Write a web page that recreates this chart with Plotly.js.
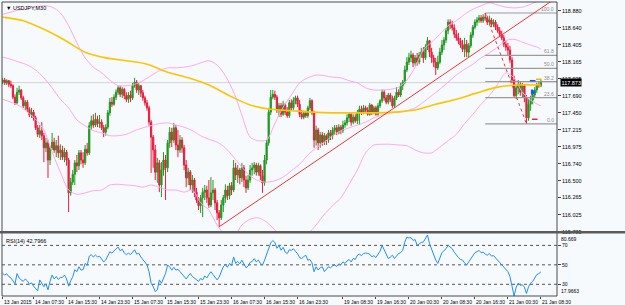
<!DOCTYPE html>
<html><head><meta charset="utf-8">
<script src="https://cdn.plot.ly/plotly-3.0.1.min.js"></script>
<style>html,body{margin:0;padding:0;background:#f7fafd;}#chart{width:625px;height:305px;}</style>
</head><body><div id="chart"></div>
<script>
// ---- USDJPY M30 candles (bar index 0..261) ----
const open = [
117.88,117.91,117.87,117.90,117.85,117.83,117.67,117.59,117.74,117.77,
117.66,117.55,117.60,117.50,117.42,117.46,117.38,117.24,117.15,117.20,
117.13,116.96,117.03,116.79,116.96,117.04,116.93,116.99,116.89,116.93,
116.83,116.90,116.79,116.33,116.48,116.59,116.75,116.71,116.89,116.79,
116.75,116.94,116.89,117.27,117.34,117.28,117.36,117.30,117.32,117.24,
117.18,117.25,117.45,117.60,117.57,117.67,117.74,117.80,117.71,117.78,
117.69,117.64,117.70,117.66,117.83,117.88,117.77,117.83,117.73,117.66,
117.59,117.52,117.32,117.11,116.93,116.62,116.75,116.44,116.65,116.79,
116.68,117.03,117.18,117.07,117.24,117.00,116.93,117.07,116.96,116.72,
116.54,116.62,116.44,116.51,116.34,116.23,116.15,116.26,116.34,116.37,
116.26,116.16,116.33,116.37,116.19,116.05,115.98,116.16,116.26,116.37,
116.29,116.43,116.37,116.68,116.58,116.65,116.54,116.68,116.51,116.40,
116.51,116.65,116.68,116.72,116.62,116.71,116.57,116.47,116.79,117.03,
117.46,117.67,117.71,117.67,117.49,117.55,117.43,117.56,117.46,117.41,
117.59,117.52,117.62,117.66,117.57,117.43,117.39,117.45,117.41,117.52,
117.62,117.45,117.07,117.21,117.03,117.14,117.04,117.13,117.07,117.17,
117.13,117.21,117.24,117.18,117.25,117.20,117.28,117.31,117.38,117.43,
117.32,117.39,117.34,117.45,117.50,117.46,117.52,117.49,117.43,117.56,
117.46,117.52,117.43,117.55,117.62,117.74,117.66,117.60,117.70,117.64,
117.55,117.66,117.74,117.70,117.83,117.88,118.05,118.16,118.22,118.26,
118.15,118.22,118.16,118.26,118.30,118.22,118.37,118.46,118.30,118.22,
118.16,118.08,118.16,118.30,118.40,118.47,118.60,118.72,118.68,118.64,
118.55,118.50,118.46,118.40,118.34,118.41,118.30,118.39,118.54,118.65,
118.72,118.75,118.78,118.74,118.79,118.78,118.72,118.75,118.69,118.72,
118.65,118.60,118.55,118.50,118.41,118.37,118.33,118.19,117.91,117.69,
117.80,117.85,117.74,117.83,117.66,117.38,117.57,117.63,117.70,117.77,
117.84,117.83];
const high = [
117.94,117.94,117.92,117.91,117.90,117.85,117.71,117.80,117.83,117.78,
117.69,117.63,117.63,117.53,117.52,117.49,117.41,117.28,117.28,117.32,
117.17,117.10,117.07,116.99,117.17,117.10,117.07,117.13,117.01,116.99,
116.96,116.93,116.82,116.54,116.65,116.79,116.86,116.93,116.93,116.90,
117.00,117.03,117.32,117.41,117.43,117.45,117.41,117.42,117.36,117.28,
117.29,117.49,117.66,117.67,117.71,117.78,117.83,117.83,117.81,117.80,
117.74,117.74,117.76,117.87,117.94,117.91,117.87,117.84,117.77,117.69,
117.63,117.55,117.35,117.14,117.00,116.82,116.79,116.76,116.90,116.86,
117.07,117.25,117.24,117.31,117.28,117.21,117.14,117.11,117.00,116.79,
116.68,116.65,116.58,116.54,116.40,116.27,116.30,116.40,116.44,116.43,
116.51,116.55,116.51,116.40,116.23,116.09,116.23,116.30,116.45,116.43,
116.47,116.48,116.79,116.75,116.72,116.68,116.75,116.72,116.57,116.58,
116.72,116.75,116.76,116.75,116.75,116.73,116.65,116.86,117.07,117.52,
117.77,117.77,117.76,117.70,117.59,117.59,117.62,117.59,117.53,117.63,
117.64,117.67,117.69,117.69,117.63,117.49,117.48,117.48,117.55,117.66,
117.64,117.48,117.27,117.24,117.18,117.18,117.17,117.15,117.21,117.21,
117.25,117.28,117.28,117.29,117.28,117.34,117.35,117.43,117.46,117.46,
117.43,117.43,117.49,117.55,117.55,117.56,117.55,117.53,117.59,117.57,
117.55,117.55,117.59,117.64,117.78,117.77,117.70,117.73,117.73,117.69,
117.69,117.81,117.78,117.87,117.91,118.11,118.23,118.29,118.32,118.29,
118.26,118.29,118.30,118.36,118.37,118.41,118.51,118.47,118.36,118.26,
118.22,118.25,118.36,118.47,118.51,118.64,118.76,118.76,118.74,118.69,
118.61,118.57,118.50,118.47,118.50,118.47,118.43,118.58,118.68,118.76,
118.79,118.82,118.82,118.83,118.848,118.81,118.81,118.78,118.76,118.75,
118.69,118.65,118.60,118.54,118.46,118.43,118.39,118.23,117.97,117.85,
117.91,117.88,117.87,117.85,117.70,117.64,117.69,117.73,117.81,117.87,
117.88,117.91];
const low = [
117.85,117.84,117.84,117.81,117.80,117.64,117.56,117.57,117.70,117.63,
117.52,117.49,117.46,117.39,117.38,117.34,117.21,117.11,117.10,117.07,
116.76,116.90,116.54,116.72,116.93,116.89,116.83,116.82,116.79,116.79,
116.76,116.71,116.06,116.29,116.44,116.44,116.62,116.65,116.73,116.68,
116.72,116.85,116.86,117.21,117.24,117.25,117.25,117.24,117.21,117.11,
117.13,117.22,117.41,117.53,117.55,117.63,117.70,117.67,117.66,117.64,
117.60,117.59,117.60,117.63,117.80,117.73,117.70,117.67,117.62,117.55,
117.48,117.27,116.61,116.68,116.51,116.47,116.34,116.27,116.57,116.23,
116.62,116.96,116.97,117.03,116.93,116.83,116.89,116.89,116.65,116.41,
116.44,116.37,116.33,116.27,116.19,116.09,116.05,115.99,116.23,116.19,
116.12,116.13,116.23,116.09,115.95,115.85,115.95,116.06,116.19,116.23,
116.24,116.30,116.34,116.51,116.47,116.45,116.48,116.41,116.33,116.37,
116.47,116.57,116.59,116.57,116.57,116.51,116.33,116.43,116.73,116.99,
117.42,117.64,117.63,117.45,117.39,117.39,117.41,117.42,117.38,117.38,
117.49,117.49,117.57,117.53,117.39,117.36,117.36,117.38,117.38,117.49,
117.42,116.96,116.99,116.93,116.96,116.99,117.00,117.00,117.03,117.07,
117.08,117.14,117.14,117.15,117.15,117.17,117.24,117.27,117.32,117.27,
117.29,117.31,117.29,117.28,117.42,117.43,117.45,117.41,117.41,117.42,
117.43,117.41,117.41,117.52,117.59,117.62,117.57,117.57,117.60,117.52,
117.52,117.63,117.67,117.67,117.77,117.85,118.02,118.12,118.16,118.09,
118.11,118.11,118.13,118.22,118.15,118.19,118.33,118.23,118.15,118.09,
117.98,118.05,118.13,118.26,118.33,118.43,118.55,118.62,118.60,118.50,
118.46,118.41,118.36,118.30,118.23,118.23,118.23,118.36,118.50,118.62,
118.67,118.71,118.71,118.71,118.74,118.68,118.68,118.65,118.65,118.61,
118.57,118.51,118.47,118.37,118.32,118.25,118.15,117.87,117.66,117.64,
117.71,117.69,117.66,117.60,117.296,117.34,117.48,117.57,117.66,117.73,
117.80,117.81];
const close = [
117.91,117.87,117.90,117.85,117.83,117.67,117.59,117.74,117.77,117.66,
117.55,117.60,117.50,117.42,117.46,117.38,117.24,117.15,117.20,117.13,
116.96,117.03,116.79,116.96,117.04,116.93,116.99,116.89,116.93,116.83,
116.90,116.79,116.33,116.48,116.59,116.75,116.71,116.89,116.79,116.75,
116.94,116.89,117.27,117.34,117.28,117.36,117.30,117.32,117.24,117.18,
117.25,117.45,117.60,117.57,117.67,117.74,117.80,117.71,117.78,117.69,
117.64,117.70,117.66,117.83,117.88,117.77,117.83,117.73,117.66,117.59,
117.52,117.32,117.11,116.93,116.62,116.75,116.44,116.65,116.79,116.68,
117.03,117.18,117.07,117.24,117.00,116.93,117.07,116.96,116.72,116.54,
116.62,116.44,116.51,116.34,116.23,116.15,116.26,116.34,116.37,116.26,
116.16,116.33,116.37,116.19,116.05,115.98,116.16,116.26,116.37,116.29,
116.43,116.37,116.68,116.58,116.65,116.54,116.68,116.51,116.40,116.51,
116.65,116.68,116.72,116.62,116.71,116.57,116.47,116.79,117.03,117.46,
117.67,117.71,117.67,117.49,117.55,117.43,117.56,117.46,117.41,117.59,
117.52,117.62,117.66,117.57,117.43,117.39,117.45,117.41,117.52,117.62,
117.45,117.07,117.21,117.03,117.14,117.04,117.13,117.07,117.17,117.13,
117.21,117.24,117.18,117.25,117.20,117.28,117.31,117.38,117.43,117.32,
117.39,117.34,117.45,117.50,117.46,117.52,117.49,117.43,117.56,117.46,
117.52,117.43,117.55,117.62,117.74,117.66,117.60,117.70,117.64,117.55,
117.66,117.74,117.70,117.83,117.88,118.05,118.16,118.22,118.26,118.15,
118.22,118.16,118.26,118.30,118.22,118.37,118.46,118.30,118.22,118.16,
118.08,118.16,118.30,118.40,118.47,118.60,118.72,118.68,118.64,118.55,
118.50,118.46,118.40,118.34,118.41,118.30,118.39,118.54,118.65,118.72,
118.75,118.78,118.74,118.79,118.78,118.72,118.75,118.69,118.72,118.65,
118.60,118.55,118.50,118.41,118.37,118.33,118.19,117.91,117.69,117.80,
117.85,117.74,117.83,117.66,117.38,117.57,117.63,117.70,117.77,117.84,
117.83,117.873];

// ---- RSI(14) per bar ----
const rsi = [
41.2,39.5,40.8,37.9,36.5,32.8,30.5,41.0,36.5,34.5,
33.0,35.5,33.5,30.0,31.5,28.0,25.5,23.3,34.5,31.0,
27.5,30.5,24.3,33.0,39.5,35.5,38.0,35.0,37.0,37.0,
39.5,35.5,28.0,33.5,37.8,45.0,43.0,48.0,44.6,45.0,
51.4,49.5,58.8,60.5,58.0,60.0,58.1,58.8,55.5,53.0,
55.0,59.5,63.5,62.0,64.5,66.5,68.2,64.5,66.0,62.2,
60.5,62.0,60.5,63.5,65.5,61.0,62.0,58.1,55.5,53.0,
50.0,42.9,31.1,27.5,22.6,24.3,34.5,31.1,37.0,41.2,
49.7,48.0,44.5,47.5,44.6,45.5,43.0,40.5,37.8,35.5,
38.5,41.2,38.0,36.0,34.5,33.0,36.0,34.5,38.5,36.5,
40.0,42.9,40.0,37.0,34.5,37.5,43.0,48.0,50.5,47.5,
51.4,49.5,58.1,51.4,53.5,51.0,54.7,50.5,47.0,48.6,
52.5,53.5,56.4,53.0,55.0,51.5,49.7,54.7,60.0,66.6,
72.5,75.0,73.0,67.0,70.0,65.0,68.0,63.2,61.5,65.5,
64.9,66.5,64.0,61.5,57.5,56.4,58.5,59.8,54.7,55.5,
52.0,43.0,48.0,44.7,47.0,48.0,43.0,45.0,48.0,47.0,
49.0,49.7,48.5,51.0,50.0,53.1,51.4,54.0,55.5,53.0,
56.5,55.5,59.9,61.0,59.5,61.5,62.2,61.6,61.0,58.2,
59.5,57.5,60.9,64.0,70.0,64.9,60.0,56.5,58.0,59.9,
56.5,59.5,61.6,62.5,64.9,73.4,78.5,77.5,78.0,75.1,
76.0,70.0,72.0,73.0,73.4,76.5,80.669,71.7,65.5,59.9,
55.0,51.4,58.2,62.5,64.5,66.6,70.0,68.5,66.6,63.0,
59.9,57.5,55.5,54.8,52.0,49.7,53.0,56.0,59.9,62.5,
63.5,64.9,62.5,63.0,61.0,59.9,61.6,59.0,59.5,57.0,
54.8,52.0,50.0,48.0,45.5,43.0,37.9,29.5,17.9663,27.0,
31.2,29.0,29.5,27.0,20.5,27.5,31.2,32.9,36.0,40.0,
41.0,42.7966];
const rsiMin = 17.9663, rsiMax = 80.669, rsiLast = 42.7966;
const rsiLevels = [70, 50, 30];

// ---- Bollinger bands, sampled every 4 bars ----
const bbX = [0,4,8,12,16,20,24,28,32,36,40,44,48,52,56,60,64,68,72,76,80,84,88,92,96,100,104,108,112,116,120,124,128,132,136,140,144,148,152,156,160,164,168,172,176,180,184,188,192,196,200,204,208,212,216,220,224,228,232,236,240,244,248,252,256,260,261];
const bbUpper = [
118.83,118.86,118.89,118.91,118.93,118.95,118.93,118.85,118.67,118.43,
118.22,118.09,118.01,117.91,117.83,117.83,117.85,117.90,117.97,118.04,
118.08,118.08,118.09,118.11,118.15,118.18,118.12,117.97,117.74,117.42,
117.11,117.06,117.07,117.30,117.53,117.70,117.87,117.94,117.98,117.97,
117.95,117.94,117.90,117.87,117.80,117.77,117.77,117.78,117.81,117.91,
118.09,118.33,118.44,118.55,118.67,118.74,118.83,118.90,118.95,118.99,
118.96,118.93,118.92,118.93,118.97,119.02,119.03];
const bbMid = [
118.23,118.20,118.16,118.12,118.05,117.94,117.80,117.64,117.52,117.35,
117.27,117.20,117.17,117.13,117.13,117.15,117.20,117.24,117.27,117.30,
117.31,117.28,117.25,117.20,117.13,117.08,117.04,116.96,116.83,116.69,
116.57,116.50,116.48,116.50,116.55,116.64,116.73,116.86,116.96,117.04,
117.13,117.20,117.24,117.28,117.32,117.38,117.42,117.45,117.46,117.48,
117.52,117.60,117.69,117.78,117.88,117.98,118.06,118.13,118.22,118.29,
118.37,118.46,118.48,118.44,118.40,118.36,118.34];
const bbLower = [
117.64,117.60,117.55,117.46,117.36,117.21,116.90,116.62,116.37,116.31,
116.33,116.36,116.37,116.44,116.45,116.44,116.43,116.41,116.44,116.41,
116.37,116.37,116.34,116.37,116.19,116.09,115.88,115.74,115.71,115.88,
115.96,115.98,115.92,115.81,115.67,115.60,115.63,115.75,115.88,116.03,
116.15,116.26,116.45,116.65,116.89,117.00,117.01,117.01,117.00,116.99,
116.93,116.89,116.89,116.97,117.06,117.15,117.30,117.43,117.57,117.69,
117.85,118.01,117.94,117.74,117.63,117.56,117.55];

// ---- long moving average (yellow), sampled every 10 bars ----
const maX = [0,10,20,30,40,50,60,70,80,90,100,110,120,130,140,150,160,170,180,190,200,210,220,230,240,250,261];
const maVals = [118.79,118.74,118.62,118.47,118.30,118.22,118.18,118.13,118.02,117.94,117.84,117.69,117.56,117.50,117.48,117.46,117.45,117.45,117.45,117.46,117.49,117.57,117.64,117.73,117.81,117.84,117.84];

// ---- drawn objects ----
const trendX = [105, 270];
const trendY = [115.855, 119.09];
const fibStart = 234, fibEnd = 254;
const fibHigh = 118.848, fibLow = 117.296;
const fibRatios = [1, 0.618, 0.5, 0.382, 0.236, 0];
const fibLabels = ['100.0', '61.8', '50.0', '38.2', '23.6', '0.0'];
const markX = [257, 257, 258, 260];
const markY = [117.90, 117.74, 117.36, 117.92];
const markColor = ['#2255ee', '#2255ee', '#ee2244', '#ffb000'];
const markSymbol = ['line-ew', 'triangle-right', 'line-ew', 'line-ew'];
const lastPrice = 117.873;

// ---- axis labels ----
const tickIdx = [0,15,31,47,63,79,95,111,127,143,165,181,197,213,229,245,261];
const tickLabels = ['13 Jan 2015','14 Jan 07:30','14 Jan 15:30','14 Jan 23:30','15 Jan 07:30','15 Jan 15:30','15 Jan 23:30','16 Jan 07:30','16 Jan 15:30','16 Jan 23:30','19 Jan 08:30','19 Jan 16:30','20 Jan 00:30','20 Jan 08:30','20 Jan 16:30','21 Jan 00:30','21 Jan 08:30'];
const priceTicks = [118.880,118.640,118.405,118.165,117.925,117.690,117.450,117.215,116.975,116.740,116.500,116.265,116.025,115.785];

// ---- build ----
const BG = '#f7fafd';
const FONT = 'Liberation Sans, Arial, sans-serif';
const xMin = -0.3, xMax = 268.8;
const idx = close.map((_, i) => i);
const mainDom = [0.2143, 1], rsiDom = [0, 0.2075];
const pink = '#ffa6f2';

const traces = [];
[bbUpper, bbMid, bbLower].forEach(arr => traces.push({
  type: 'scatter', mode: 'lines', x: bbX, y: arr, xaxis: 'x', yaxis: 'y',
  line: {color: pink, width: 1, shape: 'spline', smoothing: 0.8}, hoverinfo: 'skip'
}));
traces.push({type: 'scatter', mode: 'lines', x: maX, y: maVals, xaxis: 'x', yaxis: 'y',
  line: {color: '#ffc400', width: 1.6, shape: 'spline', smoothing: 0.8}, hoverinfo: 'skip'});
const fx = [], fy = [];
fibRatios.forEach(r => { const v = fibLow + r * (fibHigh - fibLow); fx.push(fibStart, xMax, null); fy.push(v, v, null); });
traces.push({type: 'scatter', mode: 'lines', x: fx, y: fy, xaxis: 'x', yaxis: 'y',
  line: {color: '#9a9a9a', width: 1.2}, hoverinfo: 'skip'});
traces.push({type: 'candlestick', x: idx, open: open, high: high, low: low, close: close,
  xaxis: 'x', yaxis: 'y', whiskerwidth: 0,
  increasing: {line: {color: '#1e9a1e', width: 1}, fillcolor: '#1e9a1e'},
  decreasing: {line: {color: '#ea1c3c', width: 1}, fillcolor: '#ea1c3c'},
  hoverinfo: 'skip'});
traces.push({type: 'scatter', mode: 'lines', x: trendX, y: trendY, xaxis: 'x', yaxis: 'y',
  line: {color: '#f23535', width: 1}, hoverinfo: 'skip'});
traces.push({type: 'scatter', mode: 'lines', x: [fibStart, fibEnd], y: [fibHigh, fibLow], xaxis: 'x', yaxis: 'y',
  line: {color: '#f23535', width: 1, dash: 'dot'}, hoverinfo: 'skip'});
traces.push({type: 'scatter', mode: 'markers', x: markX, y: markY, xaxis: 'x', yaxis: 'y',
  marker: {color: markColor, symbol: markSymbol, size: 4, line: {color: markColor, width: 1.5}}, hoverinfo: 'skip'});
traces.push({type: 'scatter', mode: 'lines', x: idx, y: rsi, xaxis: 'x', yaxis: 'y2',
  line: {color: '#1e8fff', width: 1}, hoverinfo: 'skip'});

const shapes = [
  {type: 'line', xref: 'paper', yref: 'y', x0: 0, x1: 1, y0: lastPrice, y1: lastPrice, line: {color: '#d2d2d2', width: 1}, layer: 'below'},
  {type: 'rect', xref: 'paper', yref: 'paper', x0: 0, x1: 1, y0: 0, y1: 1, line: {color: '#4a4a4a', width: 1}},
  {type: 'line', xref: 'paper', yref: 'paper', x0: -0.01, x1: 1.13, y0: 0.2165, y1: 0.2165, line: {color: '#5a5a5a', width: 2.5}}
];
rsiLevels.forEach(l => shapes.push({type: 'line', xref: 'paper', yref: 'y2', x0: 0, x1: 1, y0: l, y1: l,
  line: {color: '#555', width: 1, dash: 'dot'}, layer: 'below'}));

const annotations = [
  {xref: 'paper', yref: 'paper', x: 0, y: 1, xanchor: 'left', yanchor: 'top', xshift: 2, yshift: -1,
   text: '▼ USDJPY,M30', showarrow: false, font: {family: FONT, size: 5.5, color: '#000'}},
  {xref: 'paper', yref: 'paper', x: 0, y: rsiDom[1], xanchor: 'left', yanchor: 'top', xshift: 2, yshift: -1,
   text: 'RSI(14) ' + rsiLast.toFixed(4), showarrow: false, font: {family: FONT, size: 5.5, color: '#000'}},
  {xref: 'paper', yref: 'y', x: 1, y: lastPrice, xanchor: 'left', yanchor: 'middle', xshift: 3,
   text: lastPrice.toFixed(3), showarrow: false, bgcolor: '#000', borderpad: 0.5,
   font: {family: FONT, size: 5.5, color: '#fff'}},
  {xref: 'paper', yref: 'y2', x: 1, y: rsiMax, xanchor: 'left', yanchor: 'top', xshift: 2, yshift: 1,
   text: rsiMax.toFixed(3), showarrow: false, font: {family: FONT, size: 5, color: '#000'}},
  {xref: 'paper', yref: 'y2', x: 1, y: rsiMin, xanchor: 'left', yanchor: 'bottom', xshift: 2,
   text: rsiMin.toFixed(4), showarrow: false, font: {family: FONT, size: 5, color: '#000'}}
];
fibRatios.forEach((r, k) => annotations.push({xref: 'paper', yref: 'y', x: 0.998, y: fibLow + r * (fibHigh - fibLow),
  xanchor: 'right', yanchor: 'bottom', yshift: -1, text: fibLabels[k], showarrow: false,
  font: {family: FONT, size: 5, color: '#8a8a8a'}}));
// time labels, left-aligned at their tick as in the terminal
tickIdx.forEach((t, k) => annotations.push({xref: 'x', yref: 'paper', x: t, y: 0, xanchor: 'left', yanchor: 'top',
  xshift: -1, yshift: -1, text: tickLabels[k], showarrow: false, font: {family: FONT, size: 5, color: '#000'}}));

const layout = {
  width: 625, height: 305, margin: {l: 2, r: 68, t: 2, b: 9},
  paper_bgcolor: BG, plot_bgcolor: BG, showlegend: false, hovermode: false,
  font: {family: FONT, size: 5.5, color: '#000'}, boxgap: 0.15,
  xaxis: {range: [xMin, xMax], anchor: 'y2', tickvals: tickIdx, showticklabels: false,
    ticks: 'outside', ticklen: 2, tickcolor: '#444', showgrid: false, zeroline: false, showline: false,
    rangeslider: {visible: false}, fixedrange: true},
  yaxis: {domain: mainDom, range: [115.768, 119.002], anchor: 'x', side: 'right',
    tickvals: priceTicks, ticktext: priceTicks.map(v => v.toFixed(3)),
    ticks: 'outside', ticklen: 3, tickcolor: '#444', tickfont: {family: FONT, size: 5.5, color: '#000'},
    showgrid: false, zeroline: false, showline: false, fixedrange: true},
  yaxis2: {domain: rsiDom, range: [rsiMin, rsiMax], anchor: 'x', side: 'right',
    tickvals: rsiLevels, ticktext: rsiLevels.map(String),
    ticks: 'outside', ticklen: 3, tickcolor: '#444', tickfont: {family: FONT, size: 5, color: '#000'},
    showgrid: false, zeroline: false, showline: false, fixedrange: true},
  shapes: shapes, annotations: annotations
};
Plotly.newPlot('chart', traces, layout, {staticPlot: true, displayModeBar: false});
</script></body></html>
